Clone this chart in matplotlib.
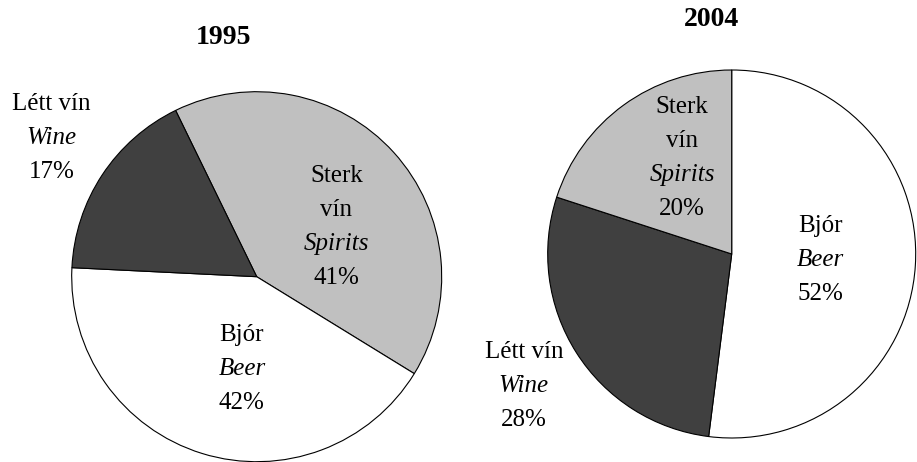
import matplotlib
matplotlib.use("Agg")
import matplotlib.pyplot as plt

# ---- data ----
categories_is = ["Sterk vín", "Bjór", "Létt vín"]
categories_en = ["Spirits", "Beer", "Wine"]
share_1995 = [41, 42, 17]          # Spirits, Beer, Wine
order_2004 = ["Beer", "Wine", "Spirits"]
share_2004 = [52, 28, 20]          # Beer, Wine, Spirits
titles = ["1995", "2004"]

colors = {"Spirits": "#c0c0c0", "Beer": "#ffffff", "Wine": "#404040"}
is_name = dict(zip(categories_en, categories_is))

W, H = 917, 462
fig = plt.figure(figsize=(W / 100, H / 100), dpi=100)
plt.rcParams['font.family'] = ['Liberation Serif', 'DejaVu Serif']

FS = 18
TFS = 20


def make_axes(cx, cy, r):
    return fig.add_axes([(cx - r) / W, (H - cy - r) / H, 2 * r / W, 2 * r / H])


def label(ax, x, y, lines, r, spacing_px=34):
    sp = spacing_px / r
    n = len(lines)
    for i, (txt, italic) in enumerate(lines):
        yy = y + (n - 1) / 2 * sp - i * sp
        ax.text(x, yy, txt, ha='center', va='center', fontsize=FS,
                style='italic' if italic else 'normal', clip_on=False)


def block(cat, val, split_is=False):
    name = is_name[cat]
    if split_is:
        first = [(w, False) for w in name.split(" ")]
    else:
        first = [(name, False)]
    return first + [(cat, True), (f"{val}%", False)]


wp = dict(edgecolor='black', linewidth=0.8, clip_on=False)

# ---- 1995 ----
r1 = 185
ax1 = make_axes(256.7, 276.7, r1)
cats1 = ["Spirits", "Beer", "Wine"]
ax1.pie(share_1995, colors=[colors[c] for c in cats1], startangle=116,
        counterclock=False, radius=1, wedgeprops=wp)
ax1.set_xlim(-1, 1); ax1.set_ylim(-1, 1); ax1.axis('off')
label(ax1, 0.43, 0.27, block("Spirits", share_1995[0], split_is=True), r1)
label(ax1, -0.08, -0.50, block("Beer", share_1995[1]), r1)
label(ax1, -1.11, 0.75, block("Wine", share_1995[2]), r1)
fig.text(223.5 / W, 1 - 37.5 / H, titles[0], ha='center', va='center',
         fontsize=TFS, fontweight='bold')

# ---- 2004 ----
r2 = 184
ax2 = make_axes(731.7, 254, r2)
ax2.pie(share_2004, colors=[colors[c] for c in order_2004], startangle=90,
        counterclock=False, radius=1, wedgeprops=wp)
ax2.set_xlim(-1, 1); ax2.set_ylim(-1, 1); ax2.axis('off')
label(ax2, -0.27, 0.52, block("Spirits", share_2004[2], split_is=True), r2)
label(ax2, 0.48, -0.03, block("Beer", share_2004[0]), r2)
label(ax2, -1.13, -0.72, block("Wine", share_2004[1]), r2)
fig.text(711.5 / W, 1 - 20 / H, titles[1], ha='center', va='center',
         fontsize=TFS, fontweight='bold')

fig.savefig("out.png", dpi=100)
